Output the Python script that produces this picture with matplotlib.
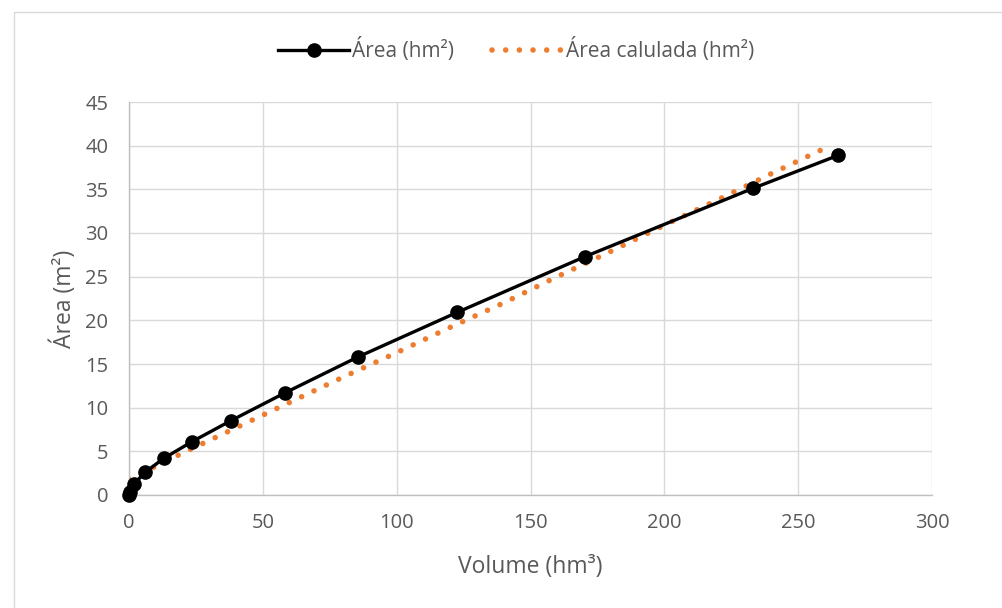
import matplotlib
matplotlib.use("Agg")
import matplotlib.pyplot as plt
from matplotlib.patches import Rectangle

plt.rcParams['font.family'] = ['Open Sans', 'DejaVu Sans']

# Measured volume-area pairs
volume = [0.0, 0.4, 2.0, 6.0, 13.0, 23.5, 38.0, 58.3, 85.5, 122.5, 170.4, 233.0, 265.0]
area = [0.0, 0.4, 1.3, 2.6, 4.2, 6.1, 8.5, 11.7, 15.8, 20.9, 27.3, 35.1, 38.9]

# Fitted (calculated) area curve
volume_calc = [0, 20, 40, 60, 80, 100, 120, 140, 160, 180, 200, 220, 240, 262]
area_calc = [1.8, 4.8, 7.7, 10.6, 13.5, 16.3, 19.2, 22.0, 25.0, 27.9, 30.9, 33.8, 36.8, 40.0]

x_ticks = [0, 50, 100, 150, 200, 250, 300]
y_ticks = [0, 5, 10, 15, 20, 25, 30, 35, 40, 45]

text_color = '#595959'
orange = '#ED7D31'

fig = plt.figure(figsize=(10.02, 6.08), dpi=100)
fig.patches.append(Rectangle((14 / 1002, -0.01), 1.2, 1 - 12 / 608 + 0.01,
                             transform=fig.transFigure, fill=False,
                             edgecolor='#D9D9D9', linewidth=1.0))

ax = fig.add_axes([129 / 1002, 1 - 495 / 608, (932 - 129) / 1002, (495 - 102) / 608])

ax.plot(volume, area, color='black', linewidth=2.4, marker='o', markersize=9.5,
        label='Área (hm²)', clip_on=False, zorder=3)
ax.plot(volume_calc, area_calc, color=orange, linewidth=4.0,
        linestyle=(0, (0.01, 2.45)), dash_capstyle='round',
        label='Área calulada (hm²)', zorder=2)

ax.set_xlim(0, 300)
ax.set_ylim(0, 45)
ax.set_xticks(x_ticks)
ax.set_yticks(y_ticks)
ax.grid(True, color='#D9D9D9', linewidth=1.0)
ax.set_axisbelow(True)
for side in ['top', 'right']:
    ax.spines[side].set_visible(False)
for side in ['left', 'bottom']:
    ax.spines[side].set_color('#BFBFBF')
    ax.spines[side].set_linewidth(1.0)
ax.tick_params(length=0, labelsize=14.5, colors=text_color)
ax.tick_params(axis='y', pad=15)
ax.tick_params(axis='x', pad=13)

ax.set_xlabel('Volume (hm³)', fontsize=16.5, color=text_color, va='center')
ax.set_ylabel('Área (m²)', fontsize=16.5, color=text_color, va='center')
ax.xaxis.set_label_coords(0.5, (495 - 567) / 393)
ax.yaxis.set_label_coords((64 - 129) / 803, 0.5)

ax.legend(loc='center', bbox_to_anchor=(516 / 1002, 1 - 50 / 608), bbox_transform=fig.transFigure,
          ncol=2, frameon=False, fontsize=15, labelcolor=text_color,
          handlelength=3.4, handletextpad=0.15, columnspacing=1.8)

fig.savefig('out.png', dpi=100)
